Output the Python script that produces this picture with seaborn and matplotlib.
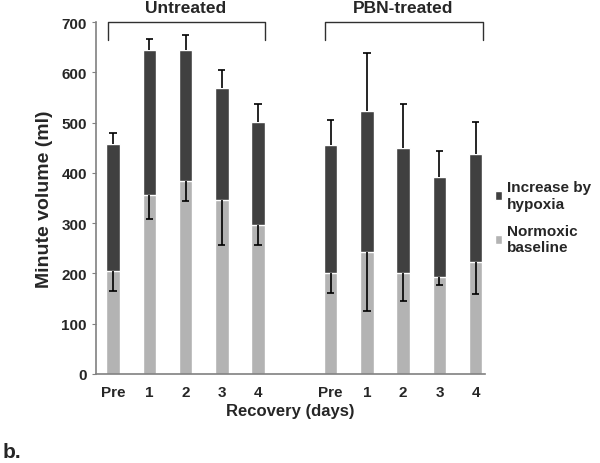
import numpy as np
import pandas as pd
import seaborn as sns
import matplotlib.pyplot as plt

# data (ml)
days = ['Pre', '1', '2', '3', '4']
groups = ['Untreated', 'PBN-treated']
baseline_untreated = [205, 356, 384, 347, 296]
total_untreated = [457, 644, 644, 570, 502]
baseline_err_untreated = [39, 48, 39, 90, 39]
total_err_untreated = [22, 22, 30, 34, 35]
baseline_pbn = [201, 243, 201, 192, 222]
total_pbn = [455, 523, 450, 392, 438]
baseline_err_pbn = [40, 118, 56, 16, 63]
total_err_pbn = [50, 116, 87, 51, 64]

pos = [0, 1, 2, 3, 4, 6, 7, 8, 9, 10]
df = pd.DataFrame({
    'pos': pos,
    'day': days + days,
    'baseline': baseline_untreated + baseline_pbn,
    'total': total_untreated + total_pbn,
    'base_err': baseline_err_untreated + baseline_err_pbn,
    'tot_err': total_err_untreated + total_err_pbn,
})

sns.set_style('white')
plt.rcParams['font.family'] = ['Liberation Sans', 'DejaVu Sans']
plt.rcParams['font.weight'] = 'bold'

dark = '#404040'
light = '#b3b3b3'

fig = plt.figure(figsize=(6, 4.64), dpi=100)
ax = fig.add_axes([0.16, 0.192, 0.648, 0.758])

sns.barplot(data=df, x='pos', y='total', native_scale=True, color=dark,
            saturation=1, width=0.37, ax=ax, errorbar=None,
            label='Increase by\nhypoxia')
sns.barplot(data=df, x='pos', y='baseline', native_scale=True, color=light,
            saturation=1, width=0.37, ax=ax, errorbar=None,
            label='Normoxic\nbaseline')

cap = 0.1
x = df['pos'].to_numpy()
top = df['total'] + df['tot_err']
ax.vlines(x, df['total'], top, color='black', lw=1.2)
ax.hlines(top, x - cap, x + cap, color='black', lw=1.2)
bot = df['baseline'] - df['base_err']
ax.vlines(x, bot, df['baseline'], color='black', lw=1.2)
ax.hlines(bot, x - cap, x + cap, color='black', lw=1.2)

ax.set_xlim(-0.47, 10.25)
ax.set_ylim(0, 700)
ax.set_yticks(range(0, 701, 100))
ax.set_xticks(pos)
ax.set_xticklabels(days + days, fontsize=11, fontweight='bold')
ax.tick_params(axis='y', labelsize=11, length=3, color='#808080', left=True)
ax.tick_params(axis='x', length=0, pad=8)
for lab in ax.get_yticklabels():
    lab.set_fontweight('bold')
for s in ['top', 'right']:
    ax.spines[s].set_visible(False)
for s in ['left', 'bottom']:
    ax.spines[s].set_color('#808080')
    ax.spines[s].set_linewidth(1.2)

ax.set_ylabel('Minute volume (ml)', fontsize=14, fontweight='bold', labelpad=6)
ax.set_xlabel('Recovery (days)', fontsize=12, fontweight='bold', labelpad=3)

# group brackets
for g, lo, hi in [(groups[0], 0, 4), (groups[1], 6, 10)]:
    ax.plot([lo - 0.15, lo - 0.15, hi + 0.2, hi + 0.2], [665, 700, 700, 665],
            color='#303030', lw=1, clip_on=False)
    ax.text((lo + hi) / 2, 730, g, ha='center', va='center', fontsize=12.5,
            fontweight='bold', clip_on=False)

h, l = ax.get_legend_handles_labels()
ax.legend(h, l, loc='center left', bbox_to_anchor=(0.99, 0.445), frameon=False,
          handlelength=0.5, handleheight=0.5, handletextpad=0.3,
          labelspacing=0.9, prop={'weight': 'bold', 'size': 11})

fig.text(0.004, 0.012, 'b.', fontsize=15, fontweight='bold')

fig.savefig('out.png', dpi=100)
